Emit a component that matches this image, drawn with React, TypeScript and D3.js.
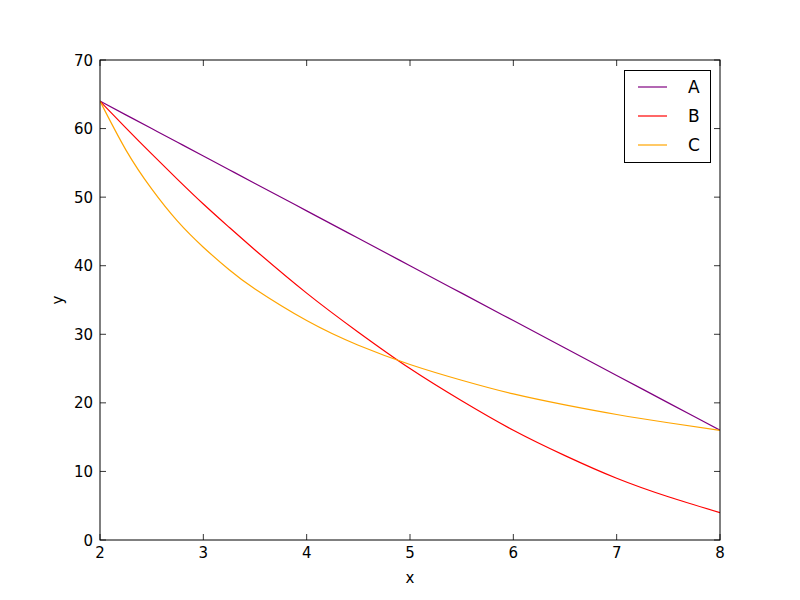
import React from "react";
import * as d3 from "d3";

const xValues = [2, 2.25, 2.5, 2.75, 3, 3.25, 3.5, 4, 4.5, 5, 5.5, 6, 6.5, 7, 7.5, 8];
const seriesA = [64, 62, 60, 58, 56, 54, 52, 48, 44, 40, 36, 32, 28, 24, 20, 16];
const seriesB = [64, 60.1, 56.3, 52.6, 49, 45.6, 42.3, 36, 30.3, 25, 20.3, 16, 12.3, 9, 6.3, 4];
const seriesC = [64, 56.9, 51.2, 46.5, 42.7, 39.4, 36.6, 32, 28.4, 25.6, 23.3, 21.3, 19.7, 18.3, 17.1, 16];
const seriesNames = ["A", "B", "C"];
const seriesColors = ["purple", "red", "orange"];
const xTicks = [2, 3, 4, 5, 6, 7, 8];
const yTicks = [0, 10, 20, 30, 40, 50, 60, 70];

export default function App() {
  const W = 800, H = 600;
  const left = 100, right = 720, top = 60, bottom = 540;
  const x = d3.scaleLinear().domain([2, 8]).range([left, right]);
  const y = d3.scaleLinear().domain([0, 70]).range([bottom, top]);
  const all = [seriesA, seriesB, seriesC];
  const line = d3
    .line<number>()
    .x((_, i) => x(xValues[i]))
    .y((d) => y(d))
    .curve(d3.curveNatural);
  const font = "DejaVu Sans, sans-serif";
  const tl = 6;
  return (
    <svg
      width={W}
      height={H}
      style={{ position: "absolute", left: 0, top: 0, background: "white" }}
      fontFamily={font}
    >
      <rect x={0} y={0} width={W} height={H} fill="white" />
      <defs>
        <clipPath id="clip">
          <rect x={left} y={top} width={right - left} height={bottom - top} />
        </clipPath>
      </defs>
      <g clipPath="url(#clip)">
        {all.map((s, k) => (
          <path key={k} d={line(s) || ""} fill="none" stroke={seriesColors[k]} strokeWidth={1.2} />
        ))}
      </g>
      {xTicks.map((t) => (
        <g key={"x" + t}>
          <line x1={x(t)} x2={x(t)} y1={bottom} y2={bottom - tl} stroke="black" strokeWidth={0.8} />
          <line x1={x(t)} x2={x(t)} y1={top} y2={top + tl} stroke="black" strokeWidth={0.8} />
          <text x={x(t)} y={bottom + 18} fontSize={15} textAnchor="middle">
            {t}
          </text>
        </g>
      ))}
      {yTicks.map((t) => (
        <g key={"y" + t}>
          <line x1={left} x2={left + tl} y1={y(t)} y2={y(t)} stroke="black" strokeWidth={0.8} />
          <line x1={right} x2={right - tl} y1={y(t)} y2={y(t)} stroke="black" strokeWidth={0.8} />
          <text x={left - 7} y={y(t) + 5.5} fontSize={15} textAnchor="end">
            {t}
          </text>
        </g>
      ))}
      <rect x={left} y={top} width={right - left} height={bottom - top} fill="none" stroke="black" strokeWidth={1} />
      <text x={(left + right) / 2} y={583} fontSize={15} textAnchor="middle">
        x
      </text>
      <text x={63} y={(top + bottom) / 2} fontSize={15} textAnchor="middle" transform={`rotate(-90, 63, ${(top + bottom) / 2})`}>
        y
      </text>
      <g>
        <rect x={624.5} y={70.5} width={86} height={92} fill="white" stroke="black" strokeWidth={1} />
        {seriesNames.map((n, k) => (
          <g key={n}>
            <line x1={638} x2={667} y1={87 + k * 29} y2={87 + k * 29} stroke={seriesColors[k]} strokeWidth={1.2} />
            <text x={688} y={87 + k * 29 + 6} fontSize={17}>
              {n}
            </text>
          </g>
        ))}
      </g>
    </svg>
  );
}
